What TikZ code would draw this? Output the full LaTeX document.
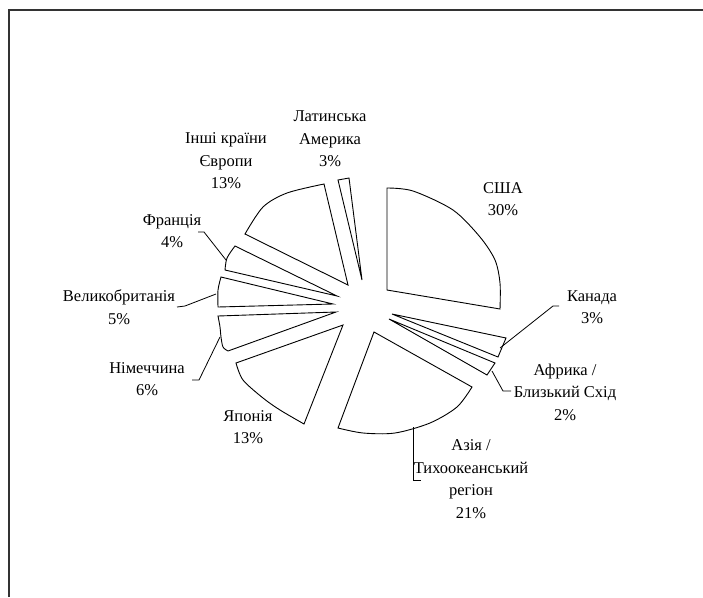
\documentclass[tikz,border=0pt]{standalone}
\usepackage{fontspec}
\setmainfont{Liberation Serif}
\begin{document}
\begin{tikzpicture}[x=1pt,y=-1pt,
  slice/.style={draw=black,line width=0.9pt,fill=white,line join=miter},
  leader/.style={draw=black,line width=0.8pt},
  lbl/.style={align=center,inner sep=0pt,font=\fontsize{16.5}{22.5}\selectfont}]
\useasboundingbox (0,0) rectangle (703,597);
\draw[line width=2pt,draw=black!80] (9,597) -- (9,10) -- (703,10);
% slices
\draw[slice] (387,290) -- plot[smooth] coordinates {(387,188) (413,191) (453,210) (480,237) (495,260) (500,283) (500,309)} -- cycle;
\draw[slice] (392,314) -- (506,338) -- (498,357) -- cycle;
\draw[slice] (389,319) -- (495,363) -- (487,375) -- cycle;
\draw[slice] (374,332) -- plot[smooth] coordinates {(472,387) (457,407) (430,423) (395,433) (363,433) (338,428)} -- cycle;
\draw[slice] (343,325) -- plot[smooth] coordinates {(236,363) (243,380) (263,398) (280,410) (304,424)} -- cycle;
\draw[slice] (336,312) -- plot[smooth] coordinates {(218,316) (220,327) (221,337) (223,347) (228,351)} -- cycle;
\draw[slice] (333,304) -- plot[smooth] coordinates {(221,277) (218,290) (218,307)} -- cycle;
\draw[slice] (337,296) -- plot[smooth] coordinates {(235,246) (227,258) (225,270)} -- cycle;
\draw[slice] (348,285) -- plot[smooth] coordinates {(245,234) (263,207) (287,193) (324,184)} -- cycle;
\draw[slice] (362,280) -- (338,180) -- (349,178) -- cycle;
% labels
\node[lbl] (lat) at (330,139) {Латинська\\Америка\\3\%};
\node[lbl] (eur) at (226,161) {Інші країни\\Європи\\13\%};
\node[lbl] (usa) at (503,199) {США\\30\%};
\node[lbl] (fra) at (172,231) {Франція\\4\%};
\node[lbl] (uk) at (119,307) {Великобританія\\5\%};
\node[lbl] (can) at (592,307) {Канада\\3\%};
\node[lbl] (ger) at (147,379) {Німеччина\\6\%};
\node[lbl] (afr) at (565,392) {Африка /\\Близький Схід\\2\%};
\node[lbl] (jap) at (248,427) {Японія\\13\%};
\node[lbl] (asi) at (471,479) {Азія /\\Тихоокеанський\\регіон\\21\%};
% leader lines
\coordinate (fraA) at (198,232); \coordinate (fraB) at (204,232); \coordinate (fraC) at (226,260);
\draw[leader] (fraA) -- (fraB) -- (fraC);
\coordinate (ukA) at (177,307); \coordinate (ukB) at (185,306); \coordinate (ukC) at (216,294);
\draw[leader] (ukA) -- (ukB) -- (ukC);
\coordinate (gerA) at (192,380); \coordinate (gerB) at (199,380); \coordinate (gerC) at (220,337);
\draw[leader] (gerA) -- (gerB) -- (gerC);
\coordinate (canA) at (500,348); \coordinate (canB) at (553,306); \coordinate (canC) at (559,306);
\draw[leader] (canA) -- (canB) -- (canC);
\coordinate (afrA) at (492,371); \coordinate (afrB) at (503,391); \coordinate (afrC) at (511,391);
\draw[leader] (afrA) -- (afrB) -- (afrC);
\coordinate (asiA) at (413,427); \coordinate (asiB) at (413,480); \coordinate (asiC) at (421,480);
\draw[leader] (asiA) -- (asiB) -- (asiC);
\end{tikzpicture}
\end{document}
